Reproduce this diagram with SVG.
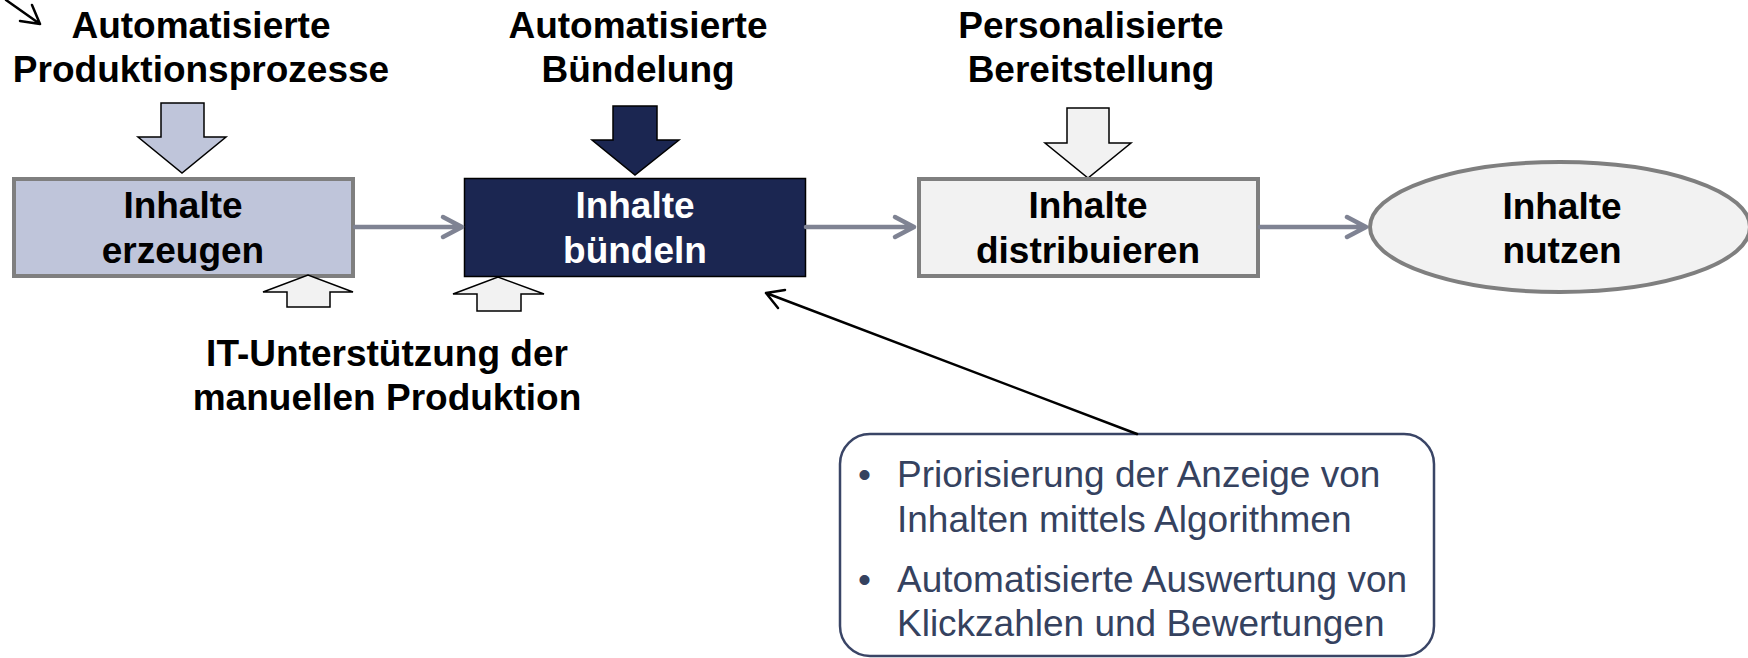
<svg xmlns="http://www.w3.org/2000/svg" width="1748" height="658" viewBox="0 0 1748 658">
  <defs>
    <style>
      .lbl { font-family: "Liberation Sans", Arial, sans-serif; font-weight: bold; font-size: 37px; fill: #000; text-anchor: middle; }
      .lbl-w { fill: #fff; }
      .note { font-family: "Liberation Sans", Arial, sans-serif; font-size: 37px; fill: #35425F; }
      .box-grey { stroke: #7F7F7F; stroke-width: 4; }
      .flow { fill: none; stroke: #7F8393; stroke-width: 4.5; stroke-linecap: round; stroke-linejoin: round; }
      .block { stroke: #000; stroke-width: 1.5; stroke-linejoin: miter; }
      .pointer { fill: none; stroke: #000; stroke-width: 2.5; stroke-linecap: round; stroke-linejoin: round; }
    </style>
  </defs>
  <rect width="1748" height="658" fill="#fff"/>

  <!-- influence labels above the process steps -->
  <g id="label-produktion">
    <path class="pointer" d="M6 0 L40 24 M20 21 L40 24 L32 5"/>
    <text class="lbl" x="201" y="38">Automatisierte</text>
    <text class="lbl" x="201" y="82">Produktionsprozesse</text>
    <polygon class="block" fill="#BFC5DA" points="161,103 204,103 204,137 226,137 182,173 138,137 161,137"/>
  </g>
  <g id="label-buendelung">
    <text class="lbl" x="638" y="38">Automatisierte</text>
    <text class="lbl" x="638" y="82">Bündelung</text>
    <polygon class="block" fill="#1B2651" points="613,106 657,106 657,140 679,140 635,175 592,140 613,140"/>
  </g>
  <g id="label-bereitstellung">
    <text class="lbl" x="1091" y="38">Personalisierte</text>
    <text class="lbl" x="1091" y="82">Bereitstellung</text>
    <polygon class="block" fill="#F2F2F2" points="1067,108 1109,108 1109,143 1131,143 1088,178 1045,143 1067,143"/>
  </g>

  <!-- process steps -->
  <g id="step-erzeugen">
    <rect class="box-grey" x="14" y="179" width="339" height="97" fill="#BFC5DA"/>
    <text class="lbl" x="183" y="218">Inhalte</text>
    <text class="lbl" x="183" y="263">erzeugen</text>
  </g>
  <g id="step-buendeln">
    <rect x="464.5" y="178.5" width="341" height="98" fill="#1B2651" stroke="#000" stroke-width="1.5"/>
    <text class="lbl lbl-w" x="635" y="218">Inhalte</text>
    <text class="lbl lbl-w" x="635" y="263">bündeln</text>
  </g>
  <g id="step-distribuieren">
    <rect class="box-grey" x="919" y="179" width="339" height="97" fill="#F2F2F2"/>
    <text class="lbl" x="1088" y="218">Inhalte</text>
    <text class="lbl" x="1088" y="263">distribuieren</text>
  </g>
  <g id="step-nutzen">
    <ellipse class="box-grey" cx="1560" cy="227" rx="190" ry="65" fill="#F2F2F2"/>
    <text class="lbl" x="1562" y="219">Inhalte</text>
    <text class="lbl" x="1562" y="263">nutzen</text>
  </g>

  <!-- IT support below the first two steps -->
  <g id="label-it">
    <polygon class="block" fill="#F2F2F2" points="287,307 330,307 330,292 353,292 308,275 263,292 287,292"/>
    <polygon class="block" fill="#F2F2F2" points="477,311 521,311 521,294 544,294 498,277 453,294 477,294"/>
    <text class="lbl" x="387" y="366">IT-Unterstützung der</text>
    <text class="lbl" x="387" y="410">manuellen Produktion</text>
  </g>

  <!-- note on bundling -->
  <g id="note-buendeln">
    <rect x="840" y="434" width="594" height="222" rx="30" ry="30" fill="#fff" stroke="#3A4566" stroke-width="2.5"/>
    <text class="note" x="858" y="487">•</text>
    <text class="note" x="897" y="487">Priorisierung der Anzeige von</text>
    <text class="note" x="897" y="532">Inhalten mittels Algorithmen</text>
    <text class="note" x="858" y="592">•</text>
    <text class="note" x="897" y="592">Automatisierte Auswertung von</text>
    <text class="note" x="897" y="636">Klickzahlen und Bewertungen</text>
  </g>

  <!-- connectors -->
  <g id="connectors">
    <path class="flow" d="M355 227 H462 M443 217 L462 227 L443 237"/>
    <path class="flow" d="M806 227 H914 M895 217 L914 227 L895 237"/>
    <path class="flow" d="M1260 227 H1366 M1347 217 L1366 227 L1347 237"/>
    <path class="pointer" d="M1137 434 L766 293 M785 290 L766 293 L778 308"/>
  </g>
</svg>
